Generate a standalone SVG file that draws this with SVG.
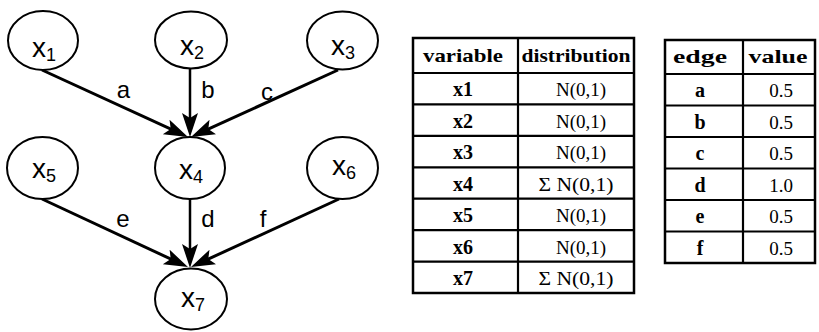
<svg xmlns="http://www.w3.org/2000/svg" width="819" height="332" viewBox="0 0 819 332">
<style>
.node ellipse{fill:#fff;stroke:#000;stroke-width:2}
.nl{font-family:"Liberation Sans",Arial,sans-serif;font-size:28px;fill:#000}
.sub{font-size:18px}
.el{font-family:"Liberation Sans",Arial,sans-serif;font-size:24px;fill:#000;text-anchor:middle}
.edge{stroke:#000;stroke-width:3;fill:none;marker-end:url(#ah)}
.tb{fill:#fff;stroke:#000;stroke-width:2.5}
.tl{stroke:#000;stroke-width:2.2}
.th{font-family:"Liberation Serif","Times New Roman",serif;font-weight:bold;font-size:19px;text-anchor:middle;fill:#000}
.tc{font-family:"Liberation Serif","Times New Roman",serif;font-weight:bold;font-size:20px;text-anchor:middle;fill:#000}
.tv{font-family:"Liberation Serif","Times New Roman",serif;font-size:19px;text-anchor:middle;fill:#000}
</style>
<defs>
<marker id="ah" markerUnits="userSpaceOnUse" markerWidth="26" markerHeight="18" refX="13" refY="8" orient="auto">
<path d="M0,0 L24,8 L0,16 L5,8 z" fill="#000"/>
</marker>
</defs>
<rect width="819" height="332" fill="#fff"/>
<g id="connectors">
<line class="edge" x1="42" y1="70" x2="178" y2="132.4"/>
<line class="edge" x1="190" y1="68" x2="190" y2="126" style="stroke-width:2.5"/>
<line class="edge" x1="338" y1="70" x2="201" y2="132.4"/>
<line class="edge" x1="42" y1="199" x2="178" y2="262.4"/>
<line class="edge" x1="190" y1="199" x2="190" y2="257" style="stroke-width:2.5"/>
<line class="edge" x1="339" y1="199" x2="201" y2="262.4"/>
<text class="el" x="123.5" y="98">a</text>
<text class="el" x="208" y="98">b</text>
<text class="el" x="267" y="100">c</text>
<text class="el" x="208" y="226.5">d</text>
<text class="el" x="123" y="227">e</text>
<text class="el" x="263" y="226.5">f</text>
</g>
<g id="x1" class="node"><ellipse cx="43" cy="40.5" rx="35" ry="29.5"/><text class="nl" x="44" y="57" text-anchor="middle">x<tspan class="sub" dy="4">1</tspan></text></g>
<g id="x2" class="node"><ellipse cx="191" cy="40" rx="36" ry="28.5"/><text class="nl" x="192" y="55" text-anchor="middle">x<tspan class="sub" dy="4">2</tspan></text></g>
<g id="x3" class="node"><ellipse cx="342.5" cy="40.5" rx="35.5" ry="29"/><text class="nl" x="343" y="55" text-anchor="middle">x<tspan class="sub" dy="4">3</tspan></text></g>
<g id="x5" class="node"><ellipse cx="42.5" cy="168" rx="35.5" ry="31"/><text class="nl" x="44" y="178" text-anchor="middle">x<tspan class="sub" dy="4">5</tspan></text></g>
<g id="x4" class="node"><ellipse cx="190" cy="168" rx="35" ry="31"/><text class="nl" x="191" y="179" text-anchor="middle">x<tspan class="sub" dy="4">4</tspan></text></g>
<g id="x6" class="node"><ellipse cx="342.5" cy="168" rx="35.5" ry="31"/><text class="nl" x="344" y="175" text-anchor="middle">x<tspan class="sub" dy="4">6</tspan></text></g>
<g id="x7" class="node"><ellipse cx="191" cy="299" rx="36" ry="30.5"/><text class="nl" x="193" y="307" text-anchor="middle">x<tspan class="sub" dy="4">7</tspan></text></g>
<g id="table-variables">
<rect class="tb" x="413" y="38" width="221" height="255"/>
<line class="tl" x1="518" y1="38" x2="518" y2="293"/>
<line class="tl" x1="413" y1="73" x2="634" y2="73"/>
<line class="tl" x1="413" y1="104.4" x2="634" y2="104.4"/>
<line class="tl" x1="413" y1="135.9" x2="634" y2="135.9"/>
<line class="tl" x1="413" y1="167.3" x2="634" y2="167.3"/>
<line class="tl" x1="413" y1="198.7" x2="634" y2="198.7"/>
<line class="tl" x1="413" y1="230.1" x2="634" y2="230.1"/>
<line class="tl" x1="413" y1="261.6" x2="634" y2="261.6"/>
<text class="th" x="463" y="62" textLength="80" lengthAdjust="spacingAndGlyphs">variable</text>
<text class="th" x="576" y="62" textLength="109" lengthAdjust="spacingAndGlyphs">distribution</text>
<text class="tc" x="463" y="96">x1</text><text class="tv" x="581" y="96">N(0,1)</text>
<text class="tc" x="463" y="127.5">x2</text><text class="tv" x="581" y="127.5">N(0,1)</text>
<text class="tc" x="463" y="159">x3</text><text class="tv" x="581" y="159">N(0,1)</text>
<text class="tc" x="463" y="190.5">x4</text><text class="tv" x="576" y="190.5" textLength="75" lengthAdjust="spacingAndGlyphs">Σ N(0,1)</text>
<text class="tc" x="463" y="222">x5</text><text class="tv" x="581" y="222">N(0,1)</text>
<text class="tc" x="463" y="253.5">x6</text><text class="tv" x="581" y="253.5">N(0,1)</text>
<text class="tc" x="463" y="285">x7</text><text class="tv" x="576" y="285" textLength="75" lengthAdjust="spacingAndGlyphs">Σ N(0,1)</text>
</g>
<g id="table-edges">
<rect class="tb" x="665" y="40" width="150" height="223"/>
<line class="tl" x1="743" y1="40" x2="743" y2="263"/>
<line class="tl" x1="665" y1="74" x2="815" y2="74"/>
<line class="tl" x1="665" y1="105.5" x2="815" y2="105.5"/>
<line class="tl" x1="665" y1="137" x2="815" y2="137"/>
<line class="tl" x1="665" y1="168.5" x2="815" y2="168.5"/>
<line class="tl" x1="665" y1="200" x2="815" y2="200"/>
<line class="tl" x1="665" y1="231.5" x2="815" y2="231.5"/>
<text class="th" x="700" y="63" textLength="54" lengthAdjust="spacingAndGlyphs">edge</text>
<text class="th" x="778" y="63" textLength="59" lengthAdjust="spacingAndGlyphs">value</text>
<text class="tc" x="700" y="97">a</text><text class="tv" x="781" y="97">0.5</text>
<text class="tc" x="700" y="128.5">b</text><text class="tv" x="781" y="128.5">0.5</text>
<text class="tc" x="700" y="160">c</text><text class="tv" x="781" y="160">0.5</text>
<text class="tc" x="700" y="191.5">d</text><text class="tv" x="781" y="191.5">1.0</text>
<text class="tc" x="700" y="223">e</text><text class="tv" x="781" y="223">0.5</text>
<text class="tc" x="700" y="254.5">f</text><text class="tv" x="781" y="254.5">0.5</text>
</g>
</svg>
